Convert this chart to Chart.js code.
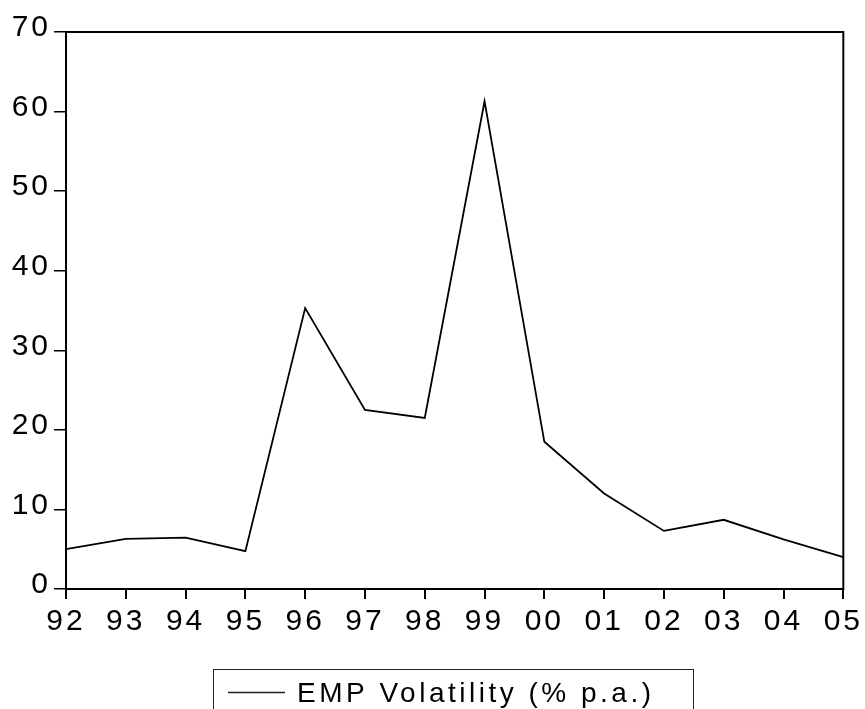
<!DOCTYPE html>
<html>
<head>
<meta charset="utf-8">
<script src="https://cdn.jsdelivr.net/npm/chart.js@4"></script>
<style>
  html, body { margin: 0; padding: 0; background: #fff; }
  #wrap { width: 865px; height: 709px; }
</style>
</head>
<body>
<div id="wrap"><canvas id="lineChart" width="865" height="709"></canvas></div>
<script>
var years = ['92', '93', '94', '95', '96', '97', '98', '99', '00', '01', '02', '03', '04', '05'];
var volatility = [5.0, 6.3, 6.45, 4.75, 35.3, 22.5, 21.5, 61.3, 18.5, 12.0, 7.3, 8.7, 6.25, 4.0];
var seriesName = 'EMP Volatility (% p.a.)';
var yMin = 0, yMax = 70, yStep = 10;

var FONT = "'Liberation Sans', Arial, sans-serif";

// frame round the plot and the boxed legend under it
var framePlugin = {
  id: 'frame',
  beforeDraw: function(chart) {
    chart.ctx.letterSpacing = '3px';
  },
  afterDraw: function(chart) {
    var ctx = chart.ctx, a = chart.chartArea;
    ctx.save();
    ctx.strokeStyle = '#000';
    ctx.lineWidth = 2;
    ctx.strokeRect(a.left, a.top, a.right - a.left, a.bottom - a.top);

    // legend
    ctx.lineWidth = 1;
    ctx.strokeStyle = '#222';
    ctx.strokeRect(213.5, 669.5, 480, 60);
    ctx.lineWidth = 1.5;
    ctx.beginPath();
    ctx.moveTo(228, 692.5);
    ctx.lineTo(285, 692.5);
    ctx.stroke();
    ctx.fillStyle = '#000';
    ctx.font = '28px ' + FONT;
    ctx.letterSpacing = '3.5px';
    ctx.textAlign = 'left';
    ctx.textBaseline = 'alphabetic';
    ctx.fillText(chart.data.datasets[0].label, 297, 702);
    ctx.restore();
  }
};

var ctx = document.getElementById('lineChart').getContext('2d');
var chart = new Chart(ctx, {
  type: 'line',
  data: {
    labels: years,
    datasets: [{
      label: seriesName,
      data: volatility,
      borderColor: '#000',
      borderWidth: 1.8,
      pointRadius: 0,
      fill: false,
      tension: 0
    }]
  },
  options: {
    responsive: false,
    animation: false,
    layout: { padding: { top: 32, right: 20.5, left: 0, bottom: 0 } },
    plugins: { legend: { display: false }, tooltip: { enabled: false } },
    scales: {
      x: {
        offset: false,
        afterFit: function(scale) { scale.height = 120; },
        border: { display: false },
        grid: { drawOnChartArea: false, drawTicks: true, tickLength: 10, color: '#000', lineWidth: 2 },
        ticks: { color: '#000', font: { family: FONT, size: 30 }, padding: 5, maxRotation: 0, autoSkip: false }
      },
      y: {
        min: yMin,
        max: yMax,
        afterFit: function(scale) { scale.width = 66; },
        border: { display: false },
        grid: { drawOnChartArea: false, drawTicks: true, tickLength: 12, color: '#000', lineWidth: 1.5 },
        ticks: { stepSize: yStep, color: '#000', font: { family: FONT, size: 30 }, padding: 3, labelOffset: -4 }
      }
    }
  },
  plugins: [framePlugin]
});
</script>
</body>
</html>
